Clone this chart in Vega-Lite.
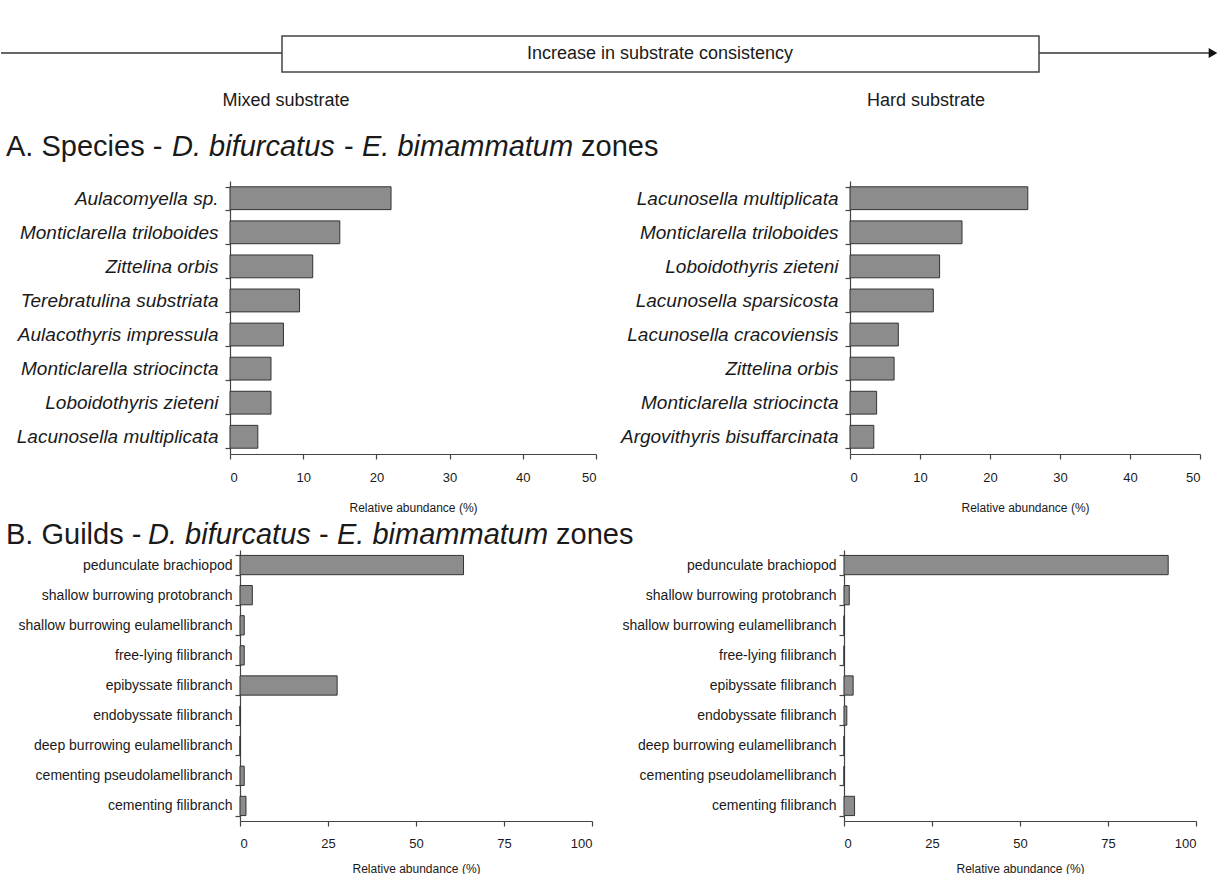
{
  "$schema": "https://vega.github.io/schema/vega-lite/v6.json",
  "padding": 0,
  "background": "white",
  "columns": 4,
  "spacing": 0,
  "bounds": "flush",
  "config": {
    "view": {"stroke": null},
    "font": "Liberation Sans",
    "text": {"font": "Liberation Sans", "color": "#1a1a1a"},
    "axis": {
      "grid": false,
      "domainColor": "#444444",
      "tickColor": "#444444",
      "domainWidth": 1.2,
      "tickWidth": 1.2,
      "tickSize": 5,
      "labelColor": "#1a1a1a",
      "titleColor": "#1a1a1a",
      "labelFont": "Liberation Sans",
      "titleFont": "Liberation Sans",
      "titleFontWeight": "normal"
    }
  },
  "datasets": {
    "blank": [{}],
    "arrowLine": [{"from": 0, "to": 1210, "level": 53}],
    "arrowHead": [{"at": 1212, "level": 53}],
    "gradientBox": [{"from": 281, "to": 1038, "top": 36, "bottom": 72}],
    "gradientLabel": [{"at": 659, "level": 54, "label": "Increase in substrate consistency"}],
    "substrates": [
      {"at": 285, "level": 101, "label": "Mixed substrate"},
      {"at": 925, "level": 101, "label": "Hard substrate"}
    ],
    "headingA": [
      {"at": 5, "part": "A. Species -", "italic": false},
      {"at": 171, "part": "D. bifurcatus", "italic": true},
      {"at": 343, "part": "-", "italic": false},
      {"at": 361, "part": "E. bimammatum", "italic": true},
      {"at": 580, "part": "zones", "italic": false}
    ],
    "headingB": [
      {"at": 5, "part": "B. Guilds -", "italic": false},
      {"at": 147, "part": "D. bifurcatus", "italic": true},
      {"at": 318, "part": "-", "italic": false},
      {"at": 336, "part": "E. bimammatum", "italic": true},
      {"at": 555, "part": "zones", "italic": false}
    ],
    "speciesMixed": [
      {"taxon": "Aulacomyella sp.", "pct": 22.0},
      {"taxon": "Monticlarella triloboides", "pct": 15.0},
      {"taxon": "Zittelina orbis", "pct": 11.3},
      {"taxon": "Terebratulina substriata", "pct": 9.5},
      {"taxon": "Aulacothyris impressula", "pct": 7.3},
      {"taxon": "Monticlarella striocincta", "pct": 5.6},
      {"taxon": "Loboidothyris zieteni", "pct": 5.6},
      {"taxon": "Lacunosella multiplicata", "pct": 3.8}
    ],
    "speciesHard": [
      {"taxon": "Lacunosella multiplicata", "pct": 25.4},
      {"taxon": "Monticlarella triloboides", "pct": 16.0},
      {"taxon": "Loboidothyris zieteni", "pct": 12.8},
      {"taxon": "Lacunosella sparsicosta", "pct": 11.9},
      {"taxon": "Lacunosella cracoviensis", "pct": 6.9},
      {"taxon": "Zittelina orbis", "pct": 6.3},
      {"taxon": "Monticlarella striocincta", "pct": 3.8},
      {"taxon": "Argovithyris bisuffarcinata", "pct": 3.4}
    ],
    "guildsMixed": [
      {"guild": "pedunculate brachiopod", "pct": 63.5},
      {"guild": "shallow burrowing protobranch", "pct": 3.5},
      {"guild": "shallow burrowing eulamellibranch", "pct": 1.2},
      {"guild": "free-lying filibranch", "pct": 1.2},
      {"guild": "epibyssate filibranch", "pct": 27.6},
      {"guild": "endobyssate filibranch", "pct": 0},
      {"guild": "deep burrowing eulamellibranch", "pct": 0},
      {"guild": "cementing pseudolamellibranch", "pct": 1.2},
      {"guild": "cementing filibranch", "pct": 1.7}
    ],
    "guildsHard": [
      {"guild": "pedunculate brachiopod", "pct": 92.1},
      {"guild": "shallow burrowing protobranch", "pct": 1.5},
      {"guild": "shallow burrowing eulamellibranch", "pct": 0},
      {"guild": "free-lying filibranch", "pct": 0},
      {"guild": "epibyssate filibranch", "pct": 2.6},
      {"guild": "endobyssate filibranch", "pct": 0.8},
      {"guild": "deep burrowing eulamellibranch", "pct": 0},
      {"guild": "cementing pseudolamellibranch", "pct": 0},
      {"guild": "cementing filibranch", "pct": 3.0}
    ]
  },
  "concat": [
    {
      "width": 229,
      "height": 125,
      "layer": [
        {
          "data": {"name": "arrowLine"},
          "mark": {"type": "rule", "color": "#333333", "strokeWidth": 1.5},
          "encoding": {
            "x": {"field": "from", "type": "quantitative", "scale": {"domain": [0, 229], "nice": false, "zero": false}, "axis": null},
            "x2": {"field": "to"},
            "y": {"field": "level", "type": "quantitative", "scale": {"domain": [0, 125], "nice": false, "zero": false, "reverse": true}, "axis": null}
          }
        },
        {
          "data": {"name": "arrowHead"},
          "mark": {"type": "point", "shape": "triangle-right", "filled": true, "size": 100, "color": "#111111", "opacity": 1},
          "encoding": {
            "x": {"field": "at", "type": "quantitative"},
            "y": {"field": "level", "type": "quantitative"}
          }
        },
        {
          "data": {"name": "gradientBox"},
          "mark": {"type": "rect", "fill": "white", "stroke": "#444444", "strokeWidth": 1.5},
          "encoding": {
            "x": {"field": "from", "type": "quantitative"},
            "x2": {"field": "to"},
            "y": {"field": "top", "type": "quantitative"},
            "y2": {"field": "bottom"}
          }
        },
        {
          "data": {"name": "gradientLabel"},
          "mark": {"type": "text", "fontSize": 18, "align": "center", "baseline": "middle"},
          "encoding": {
            "x": {"field": "at", "type": "quantitative"},
            "y": {"field": "level", "type": "quantitative"},
            "text": {"field": "label"}
          }
        },
        {
          "data": {"name": "substrates"},
          "mark": {"type": "text", "fontSize": 18, "align": "center", "baseline": "middle"},
          "encoding": {
            "x": {"field": "at", "type": "quantitative"},
            "y": {"field": "level", "type": "quantitative"},
            "text": {"field": "label"}
          }
        }
      ]
    },
    {"width": 1, "height": 125, "data": {"name": "blank"}, "mark": {"type": "text", "text": ""}, "encoding": {}},
    {"width": 1, "height": 125, "data": {"name": "blank"}, "mark": {"type": "text", "text": ""}, "encoding": {}},
    {"width": 1, "height": 125, "data": {"name": "blank"}, "mark": {"type": "text", "text": ""}, "encoding": {}},
    {
      "width": 229,
      "height": 56,
      "data": {"name": "headingA"},
      "layer": [
        {
          "transform": [{"filter": "!datum.italic"}],
          "mark": {"type": "text", "fontSize": 29, "align": "left", "baseline": "middle", "y": 22}
        },
        {
          "transform": [{"filter": "datum.italic"}],
          "mark": {"type": "text", "fontSize": 29, "fontStyle": "italic", "align": "left", "baseline": "middle", "y": 22}
        }
      ],
      "encoding": {
        "x": {"field": "at", "type": "quantitative", "scale": {"domain": [0, 229], "nice": false, "zero": false}, "axis": null},
        "text": {"field": "part"}
      }
    },
    {"width": 1, "height": 56, "data": {"name": "blank"}, "mark": {"type": "text", "text": ""}, "encoding": {}},
    {"width": 1, "height": 56, "data": {"name": "blank"}, "mark": {"type": "text", "text": ""}, "encoding": {}},
    {"width": 1, "height": 56, "data": {"name": "blank"}, "mark": {"type": "text", "text": ""}, "encoding": {}},
    {"width": 229, "height": 273, "data": {"name": "blank"}, "mark": {"type": "text", "text": ""}, "encoding": {}},
    {
      "width": 366,
      "height": 273,
      "data": {"name": "speciesMixed"},
      "mark": {"type": "bar", "fill": "#8c8c8c", "stroke": "#333333", "strokeWidth": 1},
      "encoding": {
        "y": {
          "field": "taxon", "type": "nominal", "sort": null,
          "scale": {"paddingInner": 0.33, "paddingOuter": 0.17},
          "axis": {"title": null, "labelFontSize": 19, "labelFontStyle": "italic", "tickBand": "extent", "labelPadding": 7, "labelLimit": 320}
        },
        "x": {
          "field": "pct", "type": "quantitative",
          "scale": {"domain": [0, 50]},
          "axis": {"values": [0, 10, 20, 30, 40, 50], "title": "Relative abundance (%)", "labelFontSize": 13, "titleFontSize": 12, "labelPadding": 12, "titlePadding": 18}
        }
      }
    },
    {"width": 248, "height": 273, "data": {"name": "blank"}, "mark": {"type": "text", "text": ""}, "encoding": {}},
    {
      "width": 356,
      "height": 273,
      "data": {"name": "speciesHard"},
      "mark": {"type": "bar", "fill": "#8c8c8c", "stroke": "#333333", "strokeWidth": 1},
      "encoding": {
        "y": {
          "field": "taxon", "type": "nominal", "sort": null,
          "scale": {"paddingInner": 0.33, "paddingOuter": 0.17},
          "axis": {"title": null, "offset": -6, "labelFontSize": 19, "labelFontStyle": "italic", "tickBand": "extent", "labelPadding": 7, "labelLimit": 320}
        },
        "x": {
          "field": "pct", "type": "quantitative",
          "scale": {"domain": [0, 50], "range": [6, 356]},
          "axis": {"values": [0, 10, 20, 30, 40, 50], "title": "Relative abundance (%)", "labelFontSize": 13, "titleFontSize": 12, "labelPadding": 12, "titlePadding": 18}
        }
      }
    },
    {
      "width": 229,
      "height": 96,
      "data": {"name": "headingB"},
      "layer": [
        {
          "transform": [{"filter": "!datum.italic"}],
          "mark": {"type": "text", "fontSize": 29, "align": "left", "baseline": "middle", "y": 81}
        },
        {
          "transform": [{"filter": "datum.italic"}],
          "mark": {"type": "text", "fontSize": 29, "fontStyle": "italic", "align": "left", "baseline": "middle", "y": 81}
        }
      ],
      "encoding": {
        "x": {"field": "at", "type": "quantitative", "scale": {"domain": [0, 229], "nice": false, "zero": false}, "axis": null},
        "text": {"field": "part"}
      }
    },
    {"width": 1, "height": 96, "data": {"name": "blank"}, "mark": {"type": "text", "text": ""}, "encoding": {}},
    {"width": 1, "height": 96, "data": {"name": "blank"}, "mark": {"type": "text", "text": ""}, "encoding": {}},
    {"width": 1, "height": 96, "data": {"name": "blank"}, "mark": {"type": "text", "text": ""}, "encoding": {}},
    {"width": 229, "height": 271, "data": {"name": "blank"}, "mark": {"type": "text", "text": ""}, "encoding": {}},
    {
      "width": 362,
      "height": 271,
      "data": {"name": "guildsMixed"},
      "mark": {"type": "bar", "fill": "#8c8c8c", "stroke": "#333333", "strokeWidth": 1},
      "encoding": {
        "y": {
          "field": "guild", "type": "nominal", "sort": null,
          "scale": {"paddingInner": 0.36, "paddingOuter": 0.18},
          "axis": {"title": null, "offset": -10, "labelFontSize": 14, "tickBand": "extent", "labelPadding": 3, "labelLimit": 320}
        },
        "x": {
          "field": "pct", "type": "quantitative",
          "scale": {"domain": [0, 100], "range": [10, 362]},
          "axis": {"values": [0, 25, 50, 75, 100], "title": "Relative abundance (%)", "labelFontSize": 13, "titleFontSize": 12, "labelPadding": 11, "titlePadding": 13}
        }
      }
    },
    {"width": 248, "height": 271, "data": {"name": "blank"}, "mark": {"type": "text", "text": ""}, "encoding": {}},
    {
      "width": 352,
      "height": 271,
      "data": {"name": "guildsHard"},
      "mark": {"type": "bar", "fill": "#8c8c8c", "stroke": "#333333", "strokeWidth": 1},
      "encoding": {
        "y": {
          "field": "guild", "type": "nominal", "sort": null,
          "scale": {"paddingInner": 0.36, "paddingOuter": 0.18},
          "axis": {"title": null, "labelFontSize": 14, "tickBand": "extent", "labelPadding": 3, "labelLimit": 320}
        },
        "x": {
          "field": "pct", "type": "quantitative",
          "scale": {"domain": [0, 100]},
          "axis": {"values": [0, 25, 50, 75, 100], "title": "Relative abundance (%)", "labelFontSize": 13, "titleFontSize": 12, "labelPadding": 11, "titlePadding": 13}
        }
      }
    }
  ]
}
